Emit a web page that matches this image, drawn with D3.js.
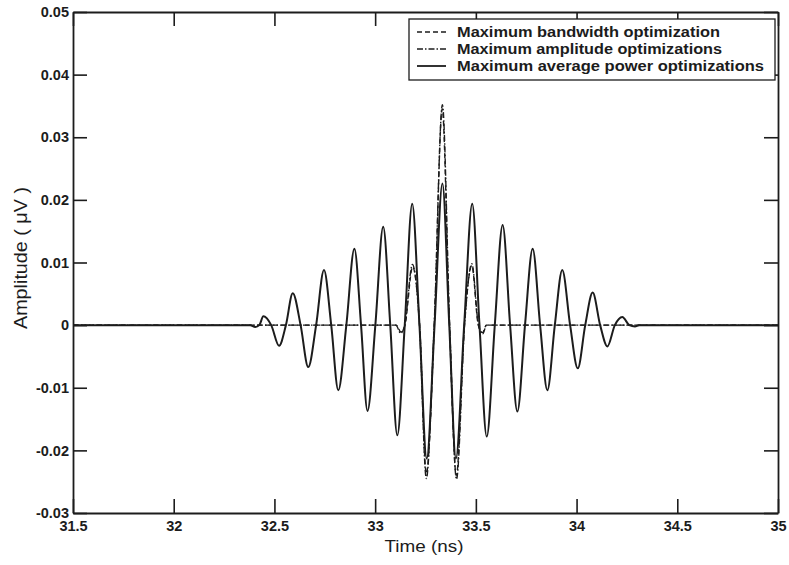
<!DOCTYPE html>
<html>
<head>
<meta charset="utf-8">
<script src="https://cdn.jsdelivr.net/npm/d3@7"></script>
<style>
  html, body { margin: 0; padding: 0; background: #fff; }
  svg { display: block; font-family: "Liberation Sans", Arial, Helvetica, sans-serif; }
</style>
</head>
<body>
<svg id="chart" width="789" height="565"></svg>
<script>
// Axis ticks
const xTicks = [31.5, 32, 32.5, 33, 33.5, 34, 34.5, 35];
const yTicks = [-0.03, -0.02, -0.01, 0, 0.01, 0.02, 0.03, 0.04, 0.05];

// Series names
const seriesNames = [
  "Maximum bandwidth optimization",
  "Maximum amplitude optimizations",
  "Maximum average power optimizations"
];

// Maximum bandwidth optimization: time (ns) and amplitude (uV)
const bwTime = [31.5, 33.105, 33.128, 33.148, 33.186, 33.221, 33.254, 33.294, 33.333,
  33.369, 33.403, 33.443, 33.480, 33.512, 33.533, 33.552, 35.0];
const bwAmp = [0, 0, -0.0011, 0, 0.0093, 0, -0.0237, 0, 0.0345,
  0, -0.0240, 0, 0.0095, 0, -0.0012, 0, 0];

// Maximum amplitude optimizations
const ampTime = [31.5, 33.103, 33.127, 33.147, 33.185, 33.220, 33.254, 33.293, 33.334,
  33.370, 33.404, 33.444, 33.480, 33.513, 33.534, 33.553, 35.0];
const ampAmp = [0, 0, -0.0013, 0, 0.0097, 0, -0.0245, 0, 0.0352,
  0, -0.0246, 0, 0.0098, 0, -0.0014, 0, 0];

// Maximum average power optimizations
const pwrTime = [31.5, 32.38, 32.405, 32.425, 32.445, 32.484, 32.523, 32.557, 32.591,
  32.630, 32.668, 32.707, 32.746, 32.782, 32.817, 32.857, 32.897, 32.930, 32.962,
  33.001, 33.040, 33.075, 33.110, 33.147, 33.184, 33.220, 33.256, 33.295, 33.334,
  33.368, 33.401, 33.442, 33.482, 33.518, 33.554, 33.594, 33.633, 33.670, 33.706,
  33.744, 33.782, 33.819, 33.855, 33.892, 33.929, 33.968, 34.006, 34.043, 34.080,
  34.117, 34.153, 34.190, 34.227, 34.262, 34.290, 34.310, 35.0];
const pwrAmp = [0, 0, -0.0003, 0, 0.0014, 0, -0.0033, 0, 0.0051,
  0, -0.0067, 0, 0.0088, 0, -0.0104, 0, 0.0122, 0, -0.0137,
  0, 0.0157, 0, -0.0176, 0, 0.0194, 0, -0.0213, 0, 0.0226,
  0, -0.0213, 0, 0.0194, 0, -0.0178, 0, 0.0160, 0, -0.0138,
  0, 0.0122, 0, -0.0104, 0, 0.0088, 0, -0.0069, 0, 0.0052,
  0, -0.0034, 0, 0.0013, 0, -0.0002, 0, 0];

const svg = d3.select("#chart");
const plotLeft = 73, plotRight = 778, plotTop = 12, plotBottom = 513;
const ink = "#1c1c1c";

const x = d3.scaleLinear().domain([31.5, 35]).range([plotLeft, plotRight]);
const y = d3.scaleLinear().domain([-0.03, 0.05]).range([plotBottom, plotTop]);

const series = [
  { name: seriesNames[0], t: bwTime, v: bwAmp, dash: "5,3", width: 1.4 },
  { name: seriesNames[1], t: ampTime, v: ampAmp, dash: "6,2,1.5,2", width: 1.4 },
  { name: seriesNames[2], t: pwrTime, v: pwrAmp, dash: null, width: 2 }
];

const line = d3.line()
  .x(d => x(d[0]))
  .y(d => y(d[1]))
  .curve(d3.curveMonotoneX);

const plot = svg.append("g");
series.forEach(s => {
  const pts = s.t.map((t, i) => [t, s.v[i]]);
  plot.append("path")
    .attr("d", line(pts))
    .attr("fill", "none")
    .attr("stroke", ink)
    .attr("stroke-width", s.width)
    .attr("stroke-dasharray", s.dash)
    .attr("stroke-linejoin", "round");
});

// Axes with inward ticks on all four sides
const tickLen = 14;
const fmtX = d => String(d);
const fmtY = d => (d === 0 ? "0" : d.toFixed(2));

const gx = svg.append("g").attr("transform", `translate(0,${plotBottom})`)
  .call(d3.axisBottom(x).tickValues(xTicks).tickFormat(fmtX)
    .tickSizeInner(-tickLen).tickSizeOuter(0).tickPadding(8));
const gy = svg.append("g").attr("transform", `translate(${plotLeft},0)`)
  .call(d3.axisLeft(y).tickValues(yTicks).tickFormat(fmtY)
    .tickSizeInner(-tickLen).tickSizeOuter(0).tickPadding(4));
const gt = svg.append("g").attr("transform", `translate(0,${plotTop})`)
  .call(d3.axisTop(x).tickValues(xTicks).tickFormat("")
    .tickSizeInner(-tickLen).tickSizeOuter(0));
const gr = svg.append("g").attr("transform", `translate(${plotRight},0)`)
  .call(d3.axisRight(y).tickValues(yTicks).tickFormat("")
    .tickSizeInner(-tickLen).tickSizeOuter(0));

[gx, gy, gt, gr].forEach(g => {
  g.select(".domain").attr("stroke", ink).attr("stroke-width", 1.8);
  g.selectAll(".tick line").attr("stroke", ink).attr("stroke-width", 1.6);
  g.selectAll(".tick text")
    .attr("fill", ink)
    .attr("font-size", 14.5)
    .attr("font-weight", "bold")
    .attr("font-family", "'Liberation Sans', Arial, sans-serif");
});

// Axis titles
svg.append("text")
  .attr("x", 424).attr("y", 552)
  .attr("text-anchor", "middle")
  .attr("font-size", 17)
  .attr("fill", ink)
  .attr("textLength", 79).attr("lengthAdjust", "spacingAndGlyphs")
  .text("Time (ns)");

svg.append("text")
  .attr("transform", "translate(27,258) rotate(-90)")
  .attr("text-anchor", "middle")
  .attr("font-size", 18)
  .attr("fill", ink)
  .attr("textLength", 142).attr("lengthAdjust", "spacingAndGlyphs")
  .text("Amplitude ( \u03bcV )");

// Legend
const lg = svg.append("g");
lg.append("rect")
  .attr("x", 409).attr("y", 19).attr("width", 366).attr("height", 61)
  .attr("fill", "#fff").attr("stroke", ink).attr("stroke-width", 1.3);
const legendWidths = [263, 265, 307];
series.forEach((s, i) => {
  const cy = 32 + i * 17;
  lg.append("line")
    .attr("x1", 417).attr("x2", 446).attr("y1", cy).attr("y2", cy)
    .attr("stroke", ink).attr("stroke-width", s.dash ? 1.4 : 1.8)
    .attr("stroke-dasharray", s.dash);
  lg.append("text")
    .attr("x", 457).attr("y", cy + 5)
    .attr("font-size", 14).attr("font-weight", "bold")
    .attr("fill", ink)
    .attr("textLength", legendWidths[i]).attr("lengthAdjust", "spacingAndGlyphs")
    .text(s.name);
});
</script>
</body>
</html>
